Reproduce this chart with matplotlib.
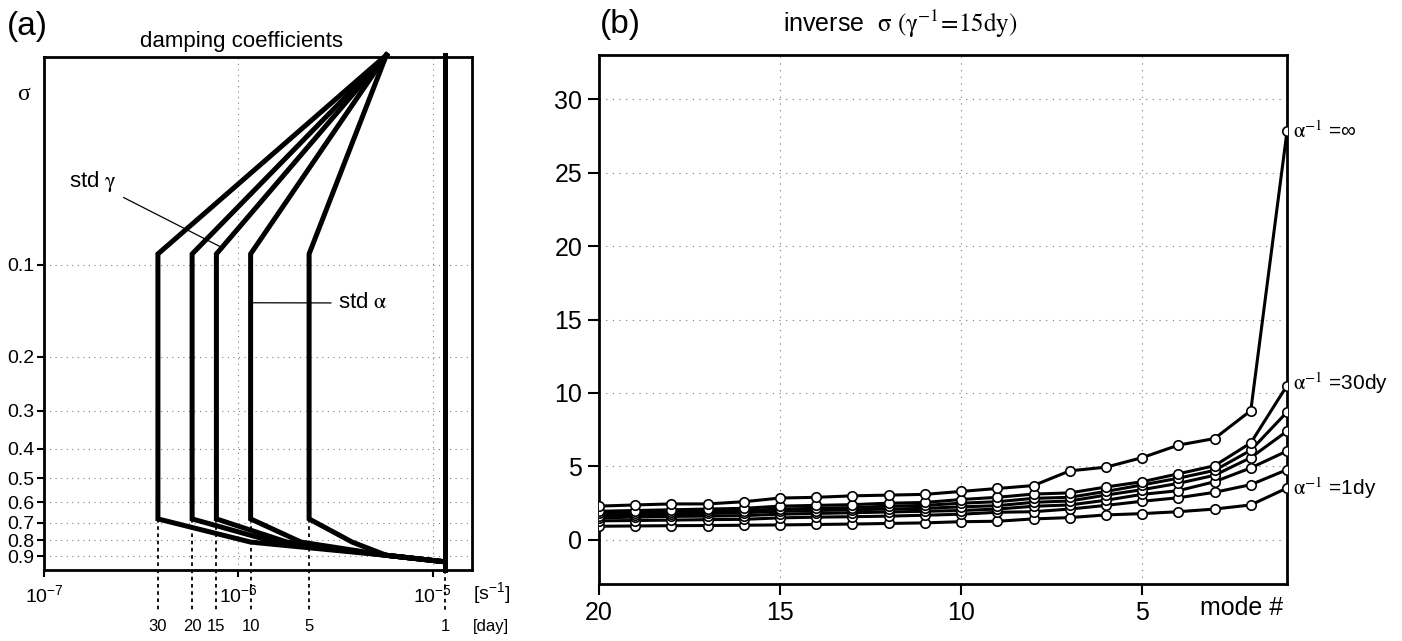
import numpy as np
import matplotlib as mpl
mpl.use('Agg')
import matplotlib.pyplot as plt
from matplotlib.ticker import NullLocator, FixedLocator

SANS = ['Liberation Sans Narrow', 'Liberation Sans', 'DejaVu Sans']
SERIF = ['Liberation Serif', 'DejaVu Serif']
plt.rcParams['font.family'] = SANS
plt.rcParams['mathtext.fontset'] = 'stix'

W, H = 1402, 641

# ---- panel (a): damping coefficients, x in [s^-1], sigma on inverted log axis
decay_days = [30, 20, 15, 10, 5]
knee_days = [10, 7.5, 6.5, 5.5, 3]
apex_day = 2.0
sigma_top = 0.0205
sigma_hi = 0.092
sigma_lo = 0.68
sigma_knee = 0.81
sigma_merge = 0.895
sigma_end = 0.94
day_ticks = [30, 20, 15, 10, 5, 1]
sigma_ticks = [0.1, 0.2, 0.3, 0.4, 0.5, 0.6, 0.7, 0.8, 0.9]
sigma_labels = ['0.1', '0.2', '0.3', '0.4', '0.5', '0.6', '0.7', '0.8', '0.9']
rate_ticks = [1e-7, 1e-6, 1e-5]
rate_labels = [r'$\mathregular{10^{-7}}$', r'$\mathregular{10^{-6}}$', r'$\mathregular{10^{-5}}$']

# ---- panel (b): inverse sigma vs mode number
modes = list(range(20, 0, -1))
inv_inf = [2.3, 2.38, 2.45, 2.45, 2.6, 2.85, 2.9, 3.0, 3.05, 3.1, 3.3, 3.5, 3.7, 4.7, 4.95, 5.6, 6.45, 6.9, 8.8, 27.8]
inv_30 = [1.95, 2.0, 2.05, 2.1, 2.15, 2.3, 2.35, 2.4, 2.5, 2.55, 2.75, 2.9, 3.12, 3.2, 3.6, 3.96, 4.5, 5.05, 6.6, 10.5]
inv_20 = [1.8, 1.85, 1.9, 1.95, 2.0, 2.1, 2.15, 2.2, 2.3, 2.35, 2.5, 2.6, 2.83, 2.9, 3.3, 3.74, 4.2, 4.73, 6.1, 8.7]
inv_15 = [1.65, 1.7, 1.75, 1.8, 1.85, 1.95, 2.0, 2.05, 2.1, 2.15, 2.25, 2.33, 2.56, 2.65, 3.05, 3.42, 3.85, 4.4, 5.6, 7.4]
inv_10 = [1.5, 1.55, 1.6, 1.62, 1.65, 1.75, 1.8, 1.85, 1.9, 1.95, 2.0, 2.1, 2.29, 2.38, 2.7, 3.1, 3.35, 3.96, 4.9, 6.05]
inv_5 = [1.3, 1.32, 1.35, 1.38, 1.4, 1.5, 1.55, 1.58, 1.62, 1.68, 1.75, 1.88, 1.92, 2.1, 2.35, 2.63, 2.87, 3.24, 3.76, 4.78]
inv_1 = [0.93, 0.95, 0.97, 0.98, 1.0, 1.02, 1.05, 1.08, 1.12, 1.16, 1.24, 1.27, 1.43, 1.52, 1.7, 1.79, 1.92, 2.1, 2.38, 3.53]
mode_ticks = [20, 15, 10, 5]
inv_ticks = [0, 5, 10, 15, 20, 25, 30]


def rate(days):
    return 1.0 / (days * 86400.0)


def fpos(x, y):
    # pixel position -> figure fraction
    return x / W, 1 - y / H


fig = plt.figure(figsize=(W / 100, H / 100), dpi=100)

#--------------------------------------------------------------------------------------------------
ax = fig.add_axes([44 / W, 1 - 570 / H, 428 / W, 513 / H])
ax.set_xscale('log')
ax.set_yscale('log')
ax.set_xlim(1e-7, 1.596e-5)
ax.set_ylim(1.0, 0.0208)

for d, k in zip(decay_days, knee_days):
    xs = [rate(apex_day), rate(d), rate(d), rate(k), rate(apex_day), rate(1)]
    ys = [sigma_top, sigma_hi, sigma_lo, sigma_knee, sigma_merge, sigma_end]
    ax.plot(xs, ys, color='k', lw=3.6, solid_joinstyle='miter', clip_on=False, zorder=4)
ax.plot([rate(1), rate(1)], [sigma_top, 1.0], color='k', lw=3.6, clip_on=False, zorder=4)

# dotted drops to the day scale
for d in day_ticks:
    y0 = sigma_lo if d != 1 else 1.0
    ax.plot([rate(d), rate(d)], [y0, 1.35], color='k', lw=1.3, ls=(0, (2, 2)), clip_on=False, zorder=3)
    ax.text(rate(d), -0.111, str(d), transform=ax.get_xaxis_transform(), ha='center', va='center', fontsize=12)
ax.text(1.003, -0.111, '[day]', transform=ax.transAxes, ha='left', va='center', fontsize=12)
ax.text(1.003, -0.045, r'[s$\mathregular{^{-1}}$]', transform=ax.transAxes, ha='left', va='center', fontsize=14)

ax.xaxis.set_major_locator(FixedLocator(rate_ticks))
ax.set_xticklabels(rate_labels)
ax.xaxis.set_minor_locator(NullLocator())
ax.yaxis.set_major_locator(FixedLocator(sigma_ticks))
ax.set_yticklabels(sigma_labels)
ax.yaxis.set_minor_locator(NullLocator())
ax.tick_params(axis='both', direction='out', length=5, width=1.5, labelsize=14, pad=2)
ax.tick_params(axis='x', pad=5)
ax.grid(True, ls=(0, (1, 4)), color='0.5', lw=0.8)
for s in ax.spines.values():
    s.set_linewidth(2)

ax.annotate(r'std $\mathrm{\gamma}$', xy=(8.05e-7, 0.087), xytext=(117, H - 182), textcoords='figure pixels',
            ha='right', va='center', fontsize=16,
            arrowprops=dict(arrowstyle='-', lw=0.9, color='k', shrinkA=3, shrinkB=0))
ax.annotate(r'std $\mathrm{\alpha}$', xy=(1.19e-6, 0.133), xytext=(338, H - 303), textcoords='figure pixels',
            ha='left', va='center', fontsize=16,
            arrowprops=dict(arrowstyle='-', lw=0.9, color='k', shrinkA=3, shrinkB=0))

fig.text(*fpos(242, 42), 'damping coefficients', ha='center', va='center', fontsize=16)
fig.text(*fpos(27, 26), '(a)', ha='center', va='center', fontsize=24)
fig.text(*fpos(23, 94), 'σ', ha='center', va='center', fontsize=17, family=SERIF)

#--------------------------------------------------------------------------------------------------
ax2 = fig.add_axes([599 / W, 1 - 584 / H, 688 / W, 529 / H])
series = [inv_1, inv_5, inv_10, inv_15, inv_20, inv_30, inv_inf]
for vals in series:
    ax2.plot(modes, vals, '-o', color='k', lw=2.2, ms=6.8, mfc='white', mec='k', mew=1.2, zorder=3)
ax2.set_xlim(20, 1)
ax2.set_ylim(-3, 33)
ax2.set_xticks(mode_ticks)
ax2.set_yticks(inv_ticks)
ax2.tick_params(axis='both', direction='out', length=8, width=1.5, labelsize=18, pad=4)
ax2.grid(True, ls=(0, (1, 5)), color='0.45', lw=0.8)
for s in ax2.spines.values():
    s.set_linewidth(2)

ax2.text(1.1, -0.045, 'mode #', transform=ax2.get_xaxis_transform(), ha='right', va='center', fontsize=18)
lab_kw = dict(transform=ax2.get_yaxis_transform(), ha='left', va='center', fontsize=15)
ax2.text(1.008, inv_inf[-1], r'$\mathrm{\alpha}^{-1}$ =∞', **lab_kw)
ax2.text(1.008, inv_30[-1] + 0.2, r'$\mathrm{\alpha}^{-1}$ =30dy', **lab_kw)
ax2.text(1.008, inv_1[-1], r'$\mathrm{\alpha}^{-1}$ =1dy', **lab_kw)

fig.text(*fpos(620, 24), '(b)', ha='center', va='center', fontsize=24)
fig.text(*fpos(783, 32), r'inverse  $\mathrm{\sigma\ (\gamma^{-1}\!=\!15dy)}$', ha='left', va='baseline', fontsize=18)

fig.savefig('out.png', dpi=100)
